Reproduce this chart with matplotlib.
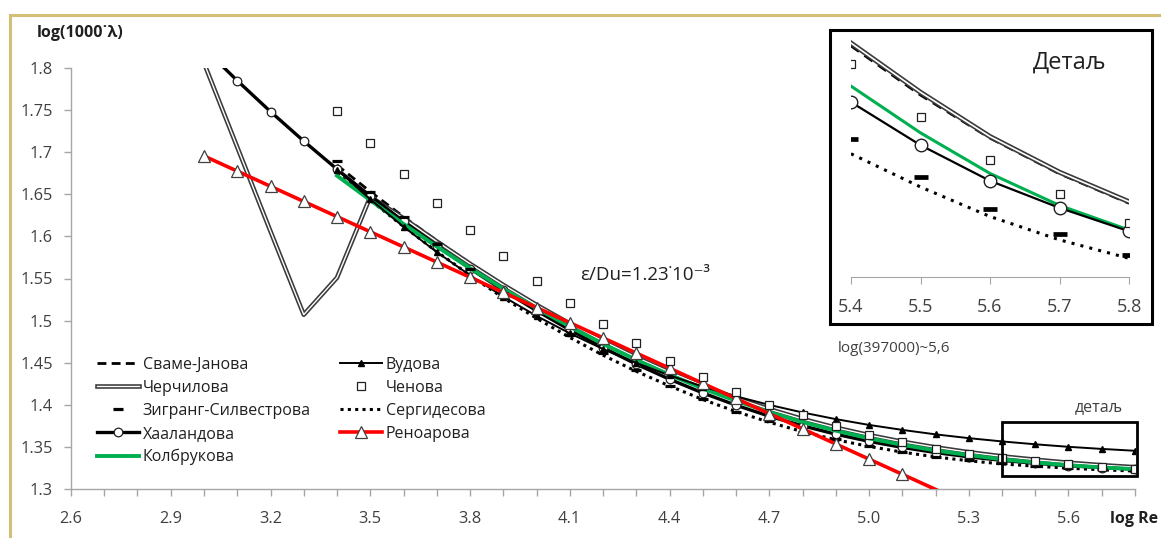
import matplotlib
matplotlib.use("Agg")
import matplotlib.pyplot as plt
import matplotlib.patheffects as pe
from matplotlib.lines import Line2D
from matplotlib.patches import Rectangle

plt.rcParams['font.family'] = ['Open Sans', 'DejaVu Sans']

W, H = 1161, 538

# ---------------- data (log Re -> log(1000*lambda)) ----------------
x_all = [3.0, 3.1, 3.2, 3.3, 3.4, 3.5, 3.6, 3.7, 3.8, 3.9, 4.0, 4.1, 4.2, 4.3, 4.4,
         4.5, 4.6, 4.7, 4.8, 4.9, 5.0, 5.1, 5.2, 5.3, 5.4, 5.5, 5.6, 5.7, 5.8]
x_turb = [3.4, 3.5, 3.6, 3.7, 3.8, 3.9, 4.0, 4.1, 4.2, 4.3, 4.4, 4.5, 4.6, 4.7, 4.8,
          4.9, 5.0, 5.1, 5.2, 5.3, 5.4, 5.5, 5.6, 5.7, 5.8]

swamee_jain = [1.6847, 1.6532, 1.6234, 1.5950, 1.5681, 1.5428, 1.5190, 1.4966, 1.4758,
               1.4565, 1.4388, 1.4226, 1.4080, 1.3948, 1.3831, 1.3728, 1.3638, 1.3560,
               1.3493, 1.3435, 1.3386, 1.3346, 1.3311, 1.3282, 1.3258]
churchill = [1.806, 1.706, 1.606, 1.507, 1.551, 1.647, 1.6215, 1.5940, 1.5675, 1.5424,
             1.5187, 1.4964, 1.4757, 1.4564, 1.4388, 1.4226, 1.4080, 1.3949, 1.3832,
             1.3729, 1.3640, 1.3562, 1.3495, 1.3437, 1.3388, 1.3348, 1.3312, 1.3283, 1.3259]
zigrang = [1.6896, 1.6531, 1.6234, 1.5910, 1.5609, 1.5324, 1.5087, 1.4829, 1.4615,
           1.4413, 1.4227, 1.4065, 1.3918, 1.3804, 1.3681, 1.3591, 1.3510, 1.3440,
           1.3385, 1.3343, 1.3310, 1.3279, 1.3253, 1.3233, 1.3216]
haaland = [1.8236, 1.7850, 1.7482, 1.7132, 1.6798, 1.6480, 1.6178, 1.5890, 1.5618,
           1.5360, 1.5118, 1.4890, 1.4679, 1.4483, 1.4304, 1.4141, 1.3995, 1.3865,
           1.3751, 1.3651, 1.3566, 1.3494, 1.3433, 1.3382, 1.3340, 1.3305, 1.3276,
           1.3254, 1.3235]
colebrook = [1.6721, 1.6430, 1.6148, 1.5880, 1.5623, 1.5379, 1.5148, 1.4929, 1.4723,
             1.4533, 1.4356, 1.4194, 1.4047, 1.3914, 1.3796, 1.3693, 1.3602, 1.3525,
             1.3458, 1.3403, 1.3353, 1.3315, 1.3282, 1.3256, 1.3236]
wood = [1.6792, 1.6441, 1.6115, 1.5814, 1.5538, 1.5285, 1.5056, 1.4849, 1.4663,
        1.4497, 1.4349, 1.4217, 1.4101, 1.3999, 1.3909, 1.3830, 1.3761, 1.3702,
        1.3649, 1.3604, 1.3565, 1.3531, 1.3501, 1.3476, 1.3454]
chen = [1.7489, 1.7106, 1.6740, 1.6393, 1.6076, 1.5767, 1.5474, 1.5209, 1.4960,
        1.4730, 1.4520, 1.4334, 1.4156, 1.3998, 1.3879, 1.3750, 1.3641, 1.3555,
        1.3475, 1.3412, 1.3371, 1.3328, 1.3293, 1.3265, 1.3242]
serghides = [1.6748, 1.6430, 1.6118, 1.5820, 1.5538, 1.5270, 1.5028, 1.4800, 1.4589,
             1.4398, 1.4224, 1.4063, 1.3920, 1.3793, 1.3681, 1.3585, 1.3506, 1.3438,
             1.3381, 1.3335, 1.3298, 1.3271, 1.3247, 1.3228, 1.3213]
renouard = [1.6955, 1.6775, 1.6595, 1.6415, 1.6235, 1.6055, 1.5875, 1.5695, 1.5515,
            1.5335, 1.5155, 1.4975, 1.4795, 1.4615, 1.4435, 1.4255, 1.4075, 1.3895,
            1.3715, 1.3535, 1.3355, 1.3175, 1.2995, 1.2815, 1.2635, 1.2455, 1.2275,
            1.2095, 1.1915]

labels = ['Сваме-Јанова', 'Черчилова', 'Зигранг-Силвестрова', 'Хааландова', 'Колбрукова',
          'Вудова', 'Ченова', 'Сергидесова', 'Реноарова']

y_ticks = [1.3, 1.35, 1.4, 1.45, 1.5, 1.55, 1.6, 1.65, 1.7, 1.75, 1.8]
y_ticklabels = ['1.3', '1.35', '1.4', '1.45', '1.5', '1.55', '1.6', '1.65', '1.7', '1.75', '1.8']
x_ticks = [2.6, 2.7, 2.8, 2.9, 3.0, 3.1, 3.2, 3.3, 3.4, 3.5, 3.6, 3.7, 3.8, 3.9, 4.0, 4.1,
           4.2, 4.3, 4.4, 4.5, 4.6, 4.7, 4.8, 4.9, 5.0, 5.1, 5.2, 5.3, 5.4, 5.5, 5.6, 5.7, 5.8]
x_labeled = ['2.6', '2.9', '3.2', '3.5', '3.8', '4.1', '4.4', '4.7', '5.0', '5.3', '5.6']
inset_ticks = [5.4, 5.5, 5.6, 5.7, 5.8]
inset_ticklabels = ['5.4', '5.5', '5.6', '5.7', '5.8']

GREEN = '#00B050'
RED = '#FF0000'
AXIS_GRAY = '#A6A6A6'


def fx(px):
    return px / W


def fy(py):
    return 1 - py / H


fig = plt.figure(figsize=(W / 100, H / 100), dpi=100)

# ---------------- main axes ----------------
ax = fig.add_axes([fx(71), fy(489), (1135 - 71) / W, (489 - 68) / H])
ax.set_xlim(2.6, 5.8)
ax.set_ylim(1.3, 1.8)

double_fx = [pe.Stroke(linewidth=3.3, foreground='#3A3A3A'), pe.Normal()]

h_sj, = ax.plot(x_turb, swamee_jain, color='black', lw=2.0, linestyle=(0, (3.2, 1.9)),
                label=labels[0], zorder=3)
h_ch, = ax.plot(x_all, churchill, color='white', lw=1.0, label=labels[1], zorder=3,
                path_effects=double_fx)
h_zs, = ax.plot(x_turb, zigrang, linestyle='none', marker='_', ms=7.5, mew=2.3,
                color='black', label=labels[2], zorder=5)
h_ha, = ax.plot(x_all, haaland, color='black', lw=2.4, marker='o', ms=6.2, mfc='white',
                mec='#202020', mew=0.9, label=labels[3], zorder=4)
h_co, = ax.plot(x_turb, colebrook, color=GREEN, lw=2.8, label=labels[4], zorder=4)
h_wo, = ax.plot(x_turb, wood, color='black', lw=1.4, marker='^', ms=5, mfc='black',
                mec='black', label=labels[5], zorder=4)
h_cn, = ax.plot(x_turb, chen, linestyle='none', marker='s', ms=6.2, mfc='white',
                mec='#202020', mew=0.9, label=labels[6], zorder=6)
h_se, = ax.plot(x_turb, serghides, color='black', lw=2.2, linestyle=(0, (1, 1.4)),
                label=labels[7], zorder=3)
h_re, = ax.plot(x_all, renouard, color=RED, lw=2.6, marker='^', ms=8.5, mfc='white',
                mec='#404040', mew=0.9, markevery=list(range(22)), label=labels[8], zorder=5)

for side in ('top', 'right'):
    ax.spines[side].set_visible(False)
for side in ('left', 'bottom'):
    ax.spines[side].set_color(AXIS_GRAY)
    ax.spines[side].set_linewidth(1.0)

ax.set_yticks(y_ticks)
ax.set_yticklabels(y_ticklabels)
ax.set_xticks(x_ticks)
ax.set_xticklabels([t if t in x_labeled else '' for t in ['%.1f' % v for v in x_ticks]])
ax.tick_params(axis='both', colors=AXIS_GRAY, labelcolor='#404040', labelsize=11.8,
               direction='out', length=5, width=1)
ax.tick_params(axis='y', pad=8)
ax.tick_params(axis='x', pad=11)

# detail rectangle on main chart
ax.add_patch(Rectangle((5.4, 1.3155), 0.405, 0.064, fill=False, edgecolor='black',
                       lw=2.0, clip_on=False, zorder=7))

# ---------------- texts ----------------
fig.text(fx(37), fy(33), 'log(1000˙λ)', fontsize=11.5, fontweight='bold', color='#202020',
         ha='left', va='center')
fig.text(fx(1158), fy(519), 'log Re', fontsize=11.5, fontweight='bold', color='#202020',
         ha='right', va='center')
fig.text(fx(580), fy(275), 'ε/Du=1.23˙10⁻³', fontsize=13.5, color='#202020',
         ha='left', va='center')
fig.text(fx(1099), fy(407), 'детаљ', fontsize=11.5, color='#404040', ha='center', va='center')
fig.text(fx(838), fy(348), 'log(397000)~5,6', fontsize=11, color='#404040',
         ha='left', va='center')

# ---------------- legends ----------------
leg_kw = dict(loc='upper left', bbox_transform=fig.transFigure, frameon=False, borderpad=0,
              borderaxespad=0, handlelength=2.6, handletextpad=0.25, labelspacing=0.44,
              fontsize=11.5, numpoints=1, labelcolor='#202020')
leg1 = fig.legend(handles=[h_sj, h_ch, h_zs, h_ha, h_co], bbox_to_anchor=(fx(97), fy(357)),
                  **leg_kw)
leg2 = fig.legend(handles=[h_wo, h_cn, h_se, h_re], bbox_to_anchor=(fx(340), fy(357)),
                  **leg_kw)

# ---------------- inset ----------------
axi = fig.add_axes([fx(851), fy(274.3), (1129 - 851) / W, (274.3 - 28.3) / H])
axi.set_xlim(5.4, 5.8)
axi.set_ylim(1.32, 1.34)
xi = x_turb[20:]
axi.plot(xi, swamee_jain[20:], color='black', lw=2.4, linestyle=(0, (3, 2)), zorder=3)
axi.plot(xi, churchill[24:], color='white', lw=1.2, zorder=3,
         path_effects=[pe.Stroke(linewidth=3.6, foreground='#3A3A3A'), pe.Normal()])
axi.plot(xi, zigrang[20:], linestyle='none', marker='_', ms=10.5, mew=3.4, color='black',
         zorder=5)
axi.plot(xi, haaland[24:], color='black', lw=1.6, marker='o', ms=9, mfc='white',
         mec='#202020', mew=1.0, zorder=4)
axi.plot(xi, colebrook[20:], color=GREEN, lw=2.2, zorder=3)
axi.plot(xi, chen[20:], linestyle='none', marker='s', ms=6, mfc='white', mec='#202020',
         mew=0.9, zorder=6)
axi.plot(xi, serghides[20:], color='black', lw=2.2, linestyle=(0, (1, 2)), zorder=3)

for side in ('top', 'right', 'left'):
    axi.spines[side].set_visible(False)
axi.spines['bottom'].set_color(AXIS_GRAY)
axi.spines['bottom'].set_position(('outward', 2))
axi.set_yticks([])
axi.set_xticks(inset_ticks)
axi.set_xticklabels(inset_ticklabels)
axi.tick_params(axis='x', colors=AXIS_GRAY, labelcolor='#404040', labelsize=13,
                direction='out', length=5, pad=10)
axi.patch.set_alpha(0)

fig.text(fx(1070), fy(63), 'Детаљ', fontsize=17, color='#202020', ha='center', va='center')
fig.add_artist(Rectangle((fx(830), fy(324)), (1152 - 830) / W, (324 - 30) / H, fill=False,
                         edgecolor='black', lw=2.2, transform=fig.transFigure))

# golden frame
fig.add_artist(Line2D([fx(10), 1.0], [fy(15), fy(15)], color='#D4BF76', lw=2.2,
                      transform=fig.transFigure))
fig.add_artist(Line2D([fx(10), fx(10)], [fy(15), 0.0], color='#D4BF76', lw=2.2,
                      transform=fig.transFigure))

fig.savefig('out.png', dpi=100)
